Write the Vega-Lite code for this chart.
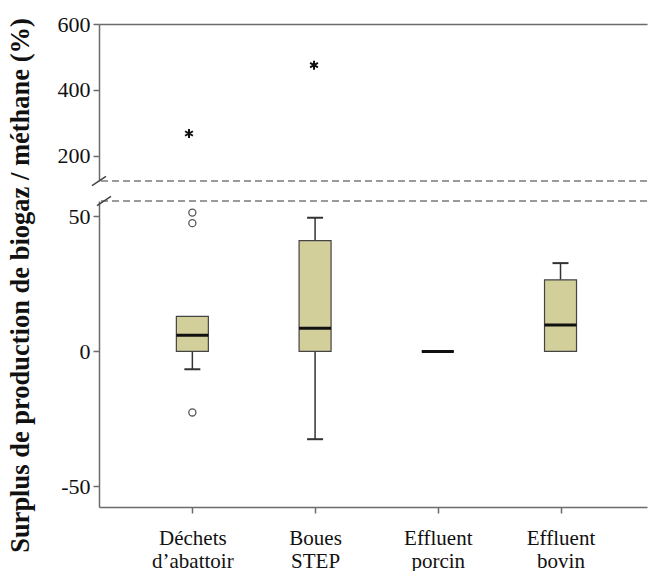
{
  "$schema": "https://vega.github.io/schema/vega-lite/v6.json",
  "padding": {"left": 6, "top": 13, "right": 0, "bottom": 0},
  "background": "white",
  "bounds": "flush",
  "config": {
    "font": "Liberation Serif",
    "view": {"stroke": null},
    "axis": {
      "grid": false,
      "domainColor": "#6b6b6b",
      "domainWidth": 1.5,
      "tickColor": "#6b6b6b",
      "tickWidth": 1.5,
      "tickSize": 6,
      "labelColor": "#111",
      "labelFont": "Liberation Serif",
      "labelFontSize": 21,
      "titleFont": "Liberation Serif",
      "titleColor": "#111"
    }
  },
  "datasets": {
    "boxes": [
      {"cat": 1, "name": "Déchets d’abattoir", "lower": -6.6, "q1": 0, "median": 6, "q3": 13, "upper": 13},
      {"cat": 2, "name": "Boues STEP", "lower": -32.5, "q1": 0, "median": 8.6, "q3": 41, "upper": 49.5},
      {"cat": 3, "name": "Effluent porcin", "lower": 0, "q1": 0, "median": 0, "q3": 0, "upper": 0},
      {"cat": 4, "name": "Effluent bovin", "lower": 0, "q1": 0, "median": 9.8, "q3": 26.5, "upper": 32.7}
    ],
    "outliers": [
      {"cat": 1, "value": 51.4},
      {"cat": 1, "value": 47.5},
      {"cat": 1, "value": -22.6}
    ],
    "extremes": [
      {"cat": 1, "value": 268},
      {"cat": 2, "value": 475}
    ],
    "breaks": [
      {"panel": "top", "x": 0.28, "y": 124},
      {"panel": "bottom", "x": 0.28, "y": 55.7}
    ]
  },
  "spacing": 20,
  "vconcat": [
    {
      "width": 548,
      "height": 157,
      "layer": [
        {
          "data": {"name": "extremes"},
          "mark": {"type": "point", "shape": "M0,-1L0,1M-0.87,-0.5L0.87,0.5M-0.87,0.5L0.87,-0.5", "size": 81, "stroke": "#111", "strokeWidth": 2, "filled": false, "opacity": 1},
          "encoding": {
            "x": {"field": "cat", "type": "quantitative", "scale": {"domain": [0.28, 4.664], "nice": false, "zero": false},
                  "axis": {"orient": "top", "labels": false, "ticks": false, "title": null}},
            "y": {"field": "value", "type": "quantitative", "scale": {"domain": [124, 600], "nice": false, "zero": false},
                  "axis": {"values": [200, 400, 600], "title": null, "labelPadding": 3, "labelFontSize": 22, "labelFont": "Liberation Serif"}}
          }
        },
        {
          "data": {"name": "breaks"},
          "transform": [{"filter": "datum.panel == 'top'"}],
          "mark": {"type": "rule", "stroke": "#7a7a7a", "strokeWidth": 1.5, "strokeDash": [7, 4]},
          "encoding": {"y": {"field": "y", "type": "quantitative"}}
        },
        {
          "data": {"name": "breaks"},
          "transform": [{"filter": "datum.panel == 'top'"}],
          "mark": {"type": "point", "shape": "M-1,0.65L1,-0.65", "size": 196, "stroke": "#444", "strokeWidth": 1.5, "filled": false, "opacity": 1, "clip": false},
          "encoding": {"x": {"field": "x", "type": "quantitative"}, "y": {"field": "y", "type": "quantitative"}}
        }
      ]
    },
    {
      "width": 548,
      "height": 306,
      "layer": [
        {
          "data": {"name": "boxes"},
          "mark": {"type": "rule", "stroke": "#333", "strokeWidth": 1.5},
          "encoding": {
            "x": {"field": "cat", "type": "quantitative", "scale": {"domain": [0.28, 4.664], "nice": false, "zero": false},
                  "axis": {"values": [1, 2, 3, 4], "title": null, "labelPadding": 14, "labelLineHeight": 23, "labelBaseline": "top", "labelFont": "Liberation Serif",
                           "labelExpr": "datum.value == 1 ? ['Déchets', 'd’abattoir'] : datum.value == 2 ? ['Boues', 'STEP'] : datum.value == 3 ? ['Effluent', 'porcin'] : ['Effluent', 'bovin']"}},
            "y": {"field": "lower", "type": "quantitative", "scale": {"domain": [-57.6, 55.7], "nice": false, "zero": false},
                  "axis": {"values": [-50, 0, 50], "labelExpr": "'' + datum.value", "labelPadding": 3, "labelFontSize": 22, "labelFont": "Liberation Serif",
                           "title": "Surplus de production de biogaz / méthane (%)", "titleFontSize": 26.5, "titleFontWeight": "bold",
                           "titleAngle": -90, "titleX": -79, "titleY": 84, "titleAlign": "center", "titleBaseline": "middle"}},
            "y2": {"field": "upper"}
          }
        },
        {
          "data": {"name": "boxes"},
          "transform": [{"filter": "datum.lower < datum.q1"}],
          "mark": {"type": "tick", "orient": "horizontal", "size": 16, "thickness": 2, "color": "#333", "opacity": 1},
          "encoding": {"x": {"field": "cat", "type": "quantitative"}, "y": {"field": "lower", "type": "quantitative"}}
        },
        {
          "data": {"name": "boxes"},
          "transform": [{"filter": "datum.upper > datum.q3"}],
          "mark": {"type": "tick", "orient": "horizontal", "size": 16, "thickness": 2, "color": "#333", "opacity": 1},
          "encoding": {"x": {"field": "cat", "type": "quantitative"}, "y": {"field": "upper", "type": "quantitative"}}
        },
        {
          "data": {"name": "boxes"},
          "mark": {"type": "bar", "size": 32, "fill": "#d3cf9b", "stroke": "#444", "strokeWidth": 1.2},
          "encoding": {"x": {"field": "cat", "type": "quantitative"}, "y": {"field": "q1", "type": "quantitative"}, "y2": {"field": "q3"}}
        },
        {
          "data": {"name": "boxes"},
          "mark": {"type": "tick", "orient": "horizontal", "size": 32, "thickness": 3, "color": "#111", "opacity": 1},
          "encoding": {"x": {"field": "cat", "type": "quantitative"}, "y": {"field": "median", "type": "quantitative"}}
        },
        {
          "data": {"name": "outliers"},
          "mark": {"type": "point", "shape": "circle", "size": 50, "stroke": "#555", "strokeWidth": 1.3, "filled": false, "opacity": 1},
          "encoding": {"x": {"field": "cat", "type": "quantitative"}, "y": {"field": "value", "type": "quantitative"}}
        },
        {
          "data": {"name": "breaks"},
          "transform": [{"filter": "datum.panel == 'bottom'"}],
          "mark": {"type": "rule", "stroke": "#7a7a7a", "strokeWidth": 1.5, "strokeDash": [7, 4]},
          "encoding": {"y": {"field": "y", "type": "quantitative"}}
        },
        {
          "data": {"name": "breaks"},
          "transform": [{"filter": "datum.panel == 'bottom'"}],
          "mark": {"type": "point", "shape": "M-1,0.65L1,-0.65", "size": 196, "stroke": "#444", "strokeWidth": 1.5, "filled": false, "opacity": 1, "clip": false},
          "encoding": {"x": {"field": "x", "type": "quantitative"}, "y": {"field": "y", "type": "quantitative"}}
        }
      ]
    }
  ]
}
